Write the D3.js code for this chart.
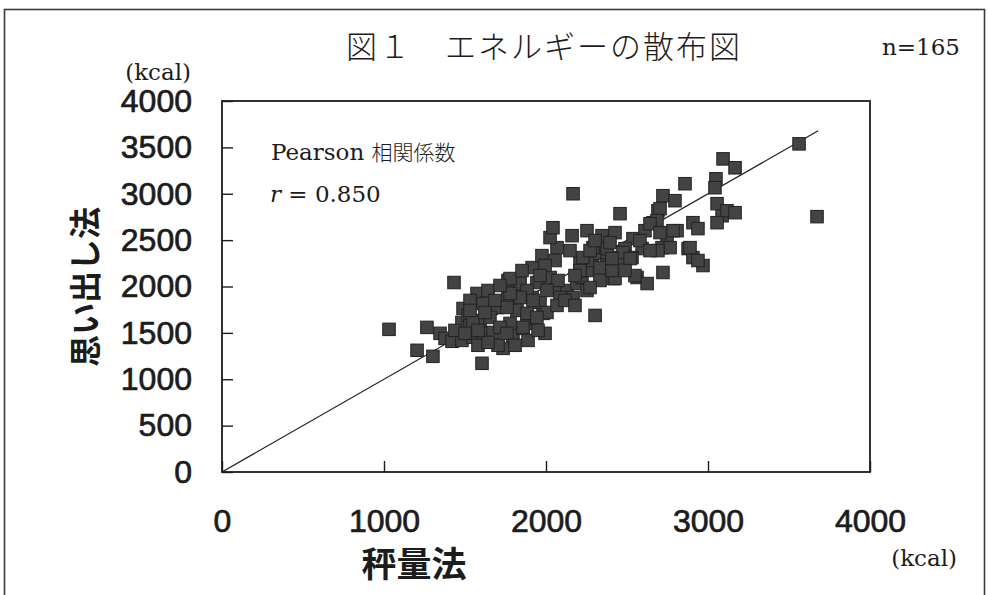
<!DOCTYPE html>
<html>
<head>
<meta charset="utf-8">
<script src="https://cdn.jsdelivr.net/npm/d3@7/dist/d3.min.js"></script>
<style>
  html, body { margin: 0; padding: 0; background: #fff; }
  svg { display: block; }
</style>
</head>
<body>
<svg id="chart" width="988" height="595"></svg>
<script>
// 秤量法 (weighed record) vs 思い出し法 (recall) energy intake, kcal, n=165
const weighed = [
  1031,1204,1302,1265,1432,1605,1346,1377,1420,1481,1549,1611,1673,1735,1796,1858,1901,1982,1488,1481,
  1519,1574,1642,1611,1698,1765,1821,1827,1914,1963,2006,1944,2068,2130,2191,2222,2253,2210,2284,2333,
  2290,2377,2333,2253,2167,2087,1593,1654,1778,1883,1531,1716,1765,1914,1975,2068,2025,2043,2161,2253,
  2346,2426,2167,2457,1994,2303,2414,2562,2624,2722,2537,2611,2661,2691,2722,2796,2858,2593,2488,2377,
  2457,2531,2475,2519,2809,2747,2716,2766,2691,2907,2938,2877,2907,2969,2426,2549,2889,2938,2784,2704,
  2685,2642,3093,3167,3087,3049,3043,3056,3117,3167,3056,3562,3673,2333,1840,1778,2025,2074,2228,2272,
  2377,2210,2006,1883,1920,1840,1778,1759,1883,1944,1704,1858,1759,1809,1549,1685,1623,1438,1500,1580,
  1642,1889,1951,2068,2117,2179,2303,2395,2580,2642,2704,2407,2272,2056,1994,1852,1716,1531,1580,1963,
  2179,2488,2407,1531,2148
];
const recalled = [
  1538,1312,1247,1559,2043,1172,1495,1441,1409,1419,1452,1495,1505,1333,1473,1548,1602,1710,1763,1613,
  1688,1925,1957,1817,1774,1871,1742,1957,1882,1828,1720,2043,1989,1957,2032,2097,2172,2247,2280,2355,
  2419,2247,2065,1957,1882,1882,1634,1667,1602,1656,1581,1559,2065,2204,2333,2419,2527,2634,2548,2602,
  2548,2581,3000,2785,1495,1688,2086,2097,2032,2151,2516,2602,2688,2817,2979,2925,3108,2409,2409,2366,
  2312,2312,2366,2301,2602,2527,2419,2419,2387,2688,2624,2409,2312,2226,2086,2118,2419,2280,2602,2839,
  2710,2677,3376,3280,2763,3161,3065,2893,2817,2796,2688,3538,2753,2204,2032,2086,2097,2065,2312,2387,
  2409,2172,1957,1957,1850,1882,1925,1774,1710,1667,1366,1559,1495,1366,1613,1850,1720,1527,1495,1366,
  1398,1419,1527,1796,1850,2118,2495,2473,2495,2387,2581,2172,1989,2280,2226,2172,2011,1850,1527,2118,
  1796,2172,2301,1742,2387
];
const points = weighed.map((x, i) => ({ x, y: recalled[i] }));

// reference line y = x across the observed range
const refLine = [0, 3680];

const xTicks = [0, 1000, 2000, 3000, 4000];
const yTicks = [0, 500, 1000, 1500, 2000, 2500, 3000, 3500, 4000];

const titleText = "図１　エネルギーの散布図";
const nText = "n=165";
const unitText = "(kcal)";
const xTitle = "秤量法";
const yTitle = "思い出し法";
const corrLabel = "相関係数";
const rValue = "0.850";

const svg = d3.select("#chart");
const plot = { left: 222, top: 101, right: 870, bottom: 472 };

const x = d3.scaleLinear().domain([0, 4000]).range([plot.left, plot.right]);
const y = d3.scaleLinear().domain([0, 4000]).range([plot.bottom, plot.top]);

const ink = "#1c1c1c";
const serif = "'DejaVu Serif', 'Liberation Serif', serif";
const sans = "'Liberation Sans', Arial, sans-serif";
const cjk = "'Noto Sans CJK JP', 'Noto Sans', sans-serif";

// outer page frame
svg.append("rect")
  .attr("x", 4.5).attr("y", 9.5)
  .attr("width", 980).attr("height", 600)
  .attr("fill", "none").attr("stroke", "#3a3a3a").attr("stroke-width", 1.6);

// axes with inward ticks
const yAxis = d3.axisLeft(y).tickValues(yTicks).tickSizeInner(-11).tickSizeOuter(0).tickPadding(30)
  .tickFormat(d3.format("d"));
const xAxis = d3.axisBottom(x).tickValues(xTicks).tickSizeInner(-11).tickSizeOuter(0).tickPadding(37)
  .tickFormat(d3.format("d"));

const gy = svg.append("g").attr("transform", `translate(${plot.left},0)`).call(yAxis);
const gx = svg.append("g").attr("transform", `translate(0,${plot.bottom})`).call(xAxis);

[gx, gy].forEach(g => {
  g.select(".domain").remove();
  g.selectAll(".tick line").attr("stroke", ink).attr("stroke-width", 1.4);
  g.selectAll(".tick text")
    .attr("fill", ink)
    .attr("stroke", ink)
    .attr("stroke-width", 0.7)
    .style("font-family", sans)
    .style("font-size", "32px");
});

// plot frame
svg.append("rect")
  .attr("x", plot.left).attr("y", plot.top)
  .attr("width", plot.right - plot.left).attr("height", plot.bottom - plot.top)
  .attr("fill", "none").attr("stroke", ink).attr("stroke-width", 1.8);

// y = x line
svg.append("line")
  .attr("x1", x(refLine[0])).attr("y1", y(refLine[0]))
  .attr("x2", x(refLine[1])).attr("y2", y(refLine[1]))
  .attr("stroke", ink).attr("stroke-width", 1.2);

// square markers
const s = 12.5;
svg.append("g").selectAll("rect")
  .data(points)
  .join("rect")
  .attr("x", d => x(d.x) - s / 2)
  .attr("y", d => y(d.y) - s / 2)
  .attr("width", s).attr("height", s)
  .attr("fill", "#434343")
  .attr("stroke", "#222")
  .attr("stroke-width", 1);

// title and annotations
svg.append("text")
  .attr("x", 346).attr("y", 58)
  .attr("fill", ink)
  .style("font-family", cjk).style("font-size", "31px").style("font-weight", 300)
  .style("letter-spacing", "2px")
  .text(titleText);

svg.append("text")
  .attr("x", 960).attr("y", 55)
  .attr("text-anchor", "end")
  .attr("fill", ink)
  .style("font-family", serif).style("font-size", "23px")
  .text(nText);

svg.append("text")
  .attr("x", 191).attr("y", 80)
  .attr("text-anchor", "end")
  .attr("fill", ink)
  .style("font-family", serif).style("font-size", "23px")
  .text(unitText);

svg.append("text")
  .attr("x", 957).attr("y", 566)
  .attr("text-anchor", "end")
  .attr("fill", ink)
  .style("font-family", serif).style("font-size", "23px")
  .text(unitText);

// axis titles
svg.append("text")
  .attr("x", 414).attr("y", 577)
  .attr("text-anchor", "middle")
  .attr("fill", ink)
  .style("font-family", cjk).style("font-size", "35px").style("font-weight", 600)
  .text(xTitle);

svg.append("text")
  .attr("transform", `translate(97,287) rotate(-90)`)
  .attr("text-anchor", "middle")
  .attr("fill", ink)
  .style("font-family", cjk).style("font-size", "32px").style("font-weight", 600)
  .text(yTitle);

// correlation note
const note = svg.append("g").attr("fill", ink);
const l1 = note.append("text").attr("x", 271).attr("y", 160)
  .style("font-family", serif).style("font-size", "23px");
l1.append("tspan").text("Pearson ");
l1.append("tspan").style("font-family", cjk).style("font-size", "21px").style("font-weight", 300).text(corrLabel);

const l2 = note.append("text").attr("x", 270).attr("y", 202)
  .style("font-family", serif).style("font-size", "23px");
l2.append("tspan").style("font-style", "italic").text("r");
l2.append("tspan").text(" = " + rValue);
</script>
</body>
</html>
